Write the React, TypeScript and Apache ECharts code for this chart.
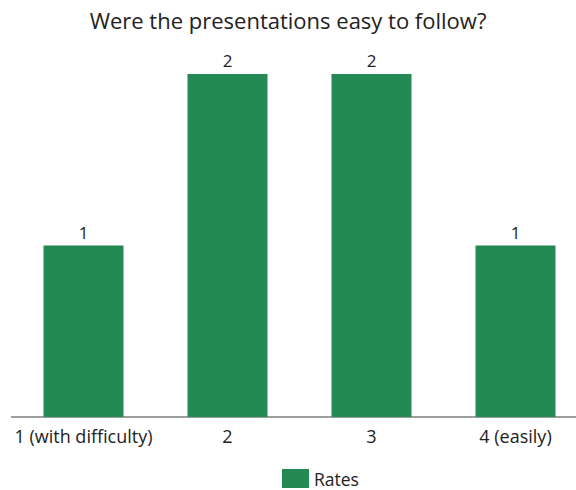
import React, { useEffect, useRef } from "react";
import * as echarts from "echarts";

const categories = ["1 (with difficulty)", "2", "3", "4 (easily)"];
const rates = [1, 2, 2, 1];
const seriesName = "Rates";
const titleText = "Were the presentations easy to follow?";

export default function App() {
  const ref = useRef<HTMLDivElement>(null);
  useEffect(() => {
    if (!ref.current) return;
    const chart = echarts.init(ref.current, undefined, { renderer: "svg" });
    const font = "'Open Sans', 'Noto Sans', sans-serif";
    chart.setOption({
      animation: false,
      backgroundColor: "#ffffff",
      title: {
        text: titleText,
        left: "center",
        top: 4,
        textStyle: { fontFamily: font, fontSize: 22, fontWeight: "normal", color: "#222222" },
      },
      grid: {
        left: 11.5,
        width: 576,
        top: 74,
        bottom: 73,
        containLabel: false,
        outerBoundsMode: "none",
      },
      legend: {
        top: 469,
        left: 282,
        itemWidth: 27,
        itemHeight: 19,
        itemGap: 9,
        icon: "rect",
        padding: 0,
        textStyle: { fontFamily: font, fontSize: 17.5, color: "#222222" },
        data: [seriesName],
      },
      xAxis: {
        type: "category",
        data: categories,
        axisLine: { lineStyle: { color: "#7f7f7f", width: 1.5 } },
        axisTick: { show: false },
        axisLabel: { fontFamily: font, fontSize: 18, color: "#222222", margin: 10, interval: 0 },
      },
      yAxis: {
        type: "value",
        min: 0,
        max: 2,
        show: false,
        splitLine: { show: false },
      },
      series: [
        {
          name: seriesName,
          type: "bar",
          data: rates,
          barWidth: 80,
          itemStyle: { color: "#238A53" },
          label: {
            show: true,
            position: "top",
            distance: 5,
            fontFamily: font,
            fontSize: 17,
            color: "#222222",
          },
        },
      ],
    });
    return () => chart.dispose();
  }, []);
  return <div ref={ref} style={{ width: 576, height: 490, position: "absolute", left: 0, top: 0 }} />;
}
